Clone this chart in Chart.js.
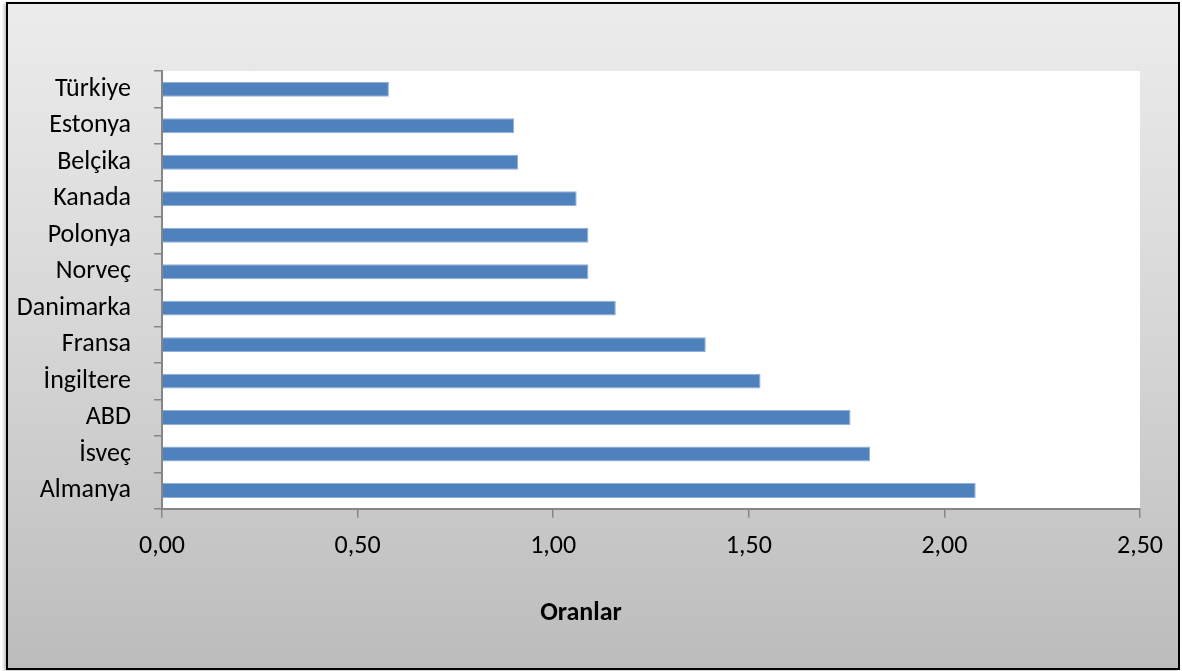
<!DOCTYPE html>
<html>
<head>
<meta charset="utf-8">
<script src="https://cdn.jsdelivr.net/npm/chart.js@4"></script>
<style>
  html, body { margin: 0; padding: 0; background: #fff; }
  #wrap { position: relative; width: 1182px; height: 671px; }
  #frame {
    position: absolute; left: 6px; top: 2px; width: 1170px; height: 664px;
    border: 2px solid #000;
    background: linear-gradient(to bottom, #ececec 0%, #d6d6d6 50%, #bcbcbc 100%);
    box-shadow: -2px 1px 3px rgba(0,0,0,0.25);
  }
  canvas { position: absolute; left: 0; top: 0; }
</style>
</head>
<body>
<div id="wrap">
  <div id="frame"></div>
  <canvas id="chart" width="1182" height="671"></canvas>
</div>
<script>
// ülkeler (üstten alta)
const countries = ['Türkiye', 'Estonya', 'Belçika', 'Kanada', 'Polonya', 'Norveç',
  'Danimarka', 'Fransa', 'İngiltere', 'ABD', 'İsveç', 'Almanya'];
const rates = [0.58, 0.90, 0.91, 1.06, 1.09, 1.09, 1.16, 1.39, 1.53, 1.76, 1.81, 2.08];
const xTicks = [0, 0.5, 1, 1.5, 2, 2.5];
const axisTitle = 'Oranlar';

const fontFamily = "Carlito, Calibri, Lato, 'Open Sans', sans-serif";

// beyaz çizim alanı
const plotBg = {
  id: 'plotBg',
  beforeDraw(chart) {
    const { ctx, chartArea: a } = chart;
    ctx.save();
    ctx.fillStyle = '#fff';
    ctx.fillRect(a.left, a.top, a.right - a.left, a.bottom - a.top);
    ctx.restore();
  }
};

// başlık Excel'deki gibi biraz sola kaymış, kutuyu daralt
const shiftTitle = {
  id: 'shiftTitle',
  afterLayout(chart) {
    const t = chart.titleBlock;
    if (t) { t.left += 22; t.width -= 22; }
  }
};

new Chart(document.getElementById('chart'), {
  type: 'bar',
  data: {
    labels: countries,
    datasets: [{
      data: rates,
      backgroundColor: '#4F81BD',
      borderColor: '#8eb0d9',
      borderWidth: 1,
      borderSkipped: 'left',
      categoryPercentage: 1,
      barPercentage: 0.41
    }]
  },
  options: {
    indexAxis: 'y',
    responsive: false,
    animation: false,
    layout: { padding: { top: 71, right: 42, left: 0, bottom: 42 } },
    plugins: {
      legend: { display: false },
      tooltip: { enabled: false },
      title: {
        display: true,
        position: 'bottom',
        text: axisTitle,
        color: '#000',
        font: { family: fontFamily, size: 26, weight: 'bold' },
        padding: 0
      }
    },
    scales: {
      x: {
        min: 0, max: 2.5,
        afterBuildTicks(scale) { scale.ticks = xTicks.map(v => ({ value: v })); },
        afterFit(scale) { scale.height = 89; },
        grid: { drawOnChartArea: false, color: '#868686', tickLength: 9, lineWidth: 1.5 },
        border: { color: '#868686', width: 2 },
        ticks: {
          color: '#000',
          padding: 13,
          font: { family: fontFamily, size: 26 },
          callback: v => v.toFixed(2).replace('.', ',')
        }
      },
      y: {
        afterFit(scale) { scale.width = 162; },
        grid: { offset: true, drawOnChartArea: false, color: '#868686', tickLength: 8, lineWidth: 1.5 },
        border: { color: '#868686', width: 2 },
        ticks: {
          color: '#000',
          padding: 23,
          font: { family: fontFamily, size: 26 }
        }
      }
    }
  },
  plugins: [plotBg, shiftTitle]
});
</script>
</body>
</html>
